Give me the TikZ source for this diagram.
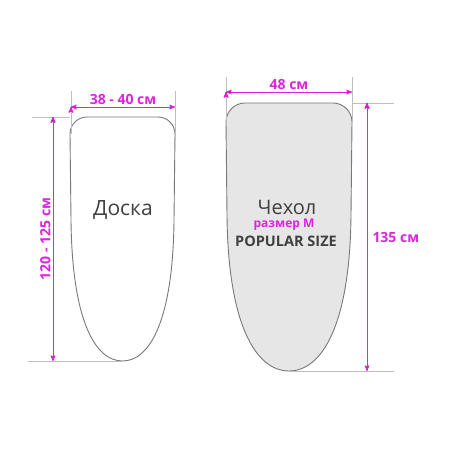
\documentclass[tikz,border=0pt]{standalone}
\usepackage{fontspec}
\setmainfont{Open Sans}
\usetikzlibrary{arrows}

\definecolor{dimpink}{RGB}{222,34,222}
\definecolor{guidegray}{RGB}{190,190,190}
\definecolor{boardgray}{RGB}{120,120,120}
\definecolor{coverfill}{RGB}{230,230,230}
\definecolor{textgray}{RGB}{64,64,64}

\tikzset{
    guide/.style={draw=guidegray, line width=0.7pt},
    dimline/.style={<->, draw=dimpink, line width=1pt},
    dimlabel/.style={text=dimpink, font=\fontsize{14}{15}\selectfont\bfseries, inner sep=1pt},
    outline/.style={draw=boardgray, line width=0.9pt}
}

\begin{document}
\begin{tikzpicture}[x=1pt, y=-1pt, >=stealth', line join=round]
    \useasboundingbox (0,0) rectangle (450,450);

    % Corners {board}
    \coordinate (btl) at (70,117);
    \coordinate (btr) at (175,117);
    \coordinate (bbot) at (122.5,361);
    % Corners {cover}
    \coordinate (ctl) at (226,103);
    \coordinate (ctr) at (352,103);
    \coordinate (cbot) at (289,371);

    % Shapes
    \path [outline, fill=white]
        (70,134) -- (71,220) .. controls (72,320) and (95,361) .. (bbot)
        .. controls (150,361) and (173,320) .. (174,220) -- (175,134)
        .. controls (175,124.6) and (167.4,117) .. (158,117) -- (87,117)
        .. controls (77.6,117) and (70,124.6) .. (70,134) -- cycle;
    \path [outline, fill=coverfill]
        (226,122) -- (227,215) .. controls (228,325) and (256,371) .. (cbot)
        .. controls (322,371) and (350,325) .. (351,215) -- (352,122)
        .. controls (352,111.5) and (343.5,103) .. (333,103) -- (245,103)
        .. controls (234.5,103) and (226,111.5) .. (226,122) -- cycle;

    % Guides
    \coordinate (g1) at (71,91);    \coordinate (g2) at (175,91);
    \coordinate (g3) at (32,117);   \coordinate (g4) at (28,361);
    \coordinate (g5) at (226,77);   \coordinate (g6) at (352,77);
    \coordinate (g7) at (394,103);  \coordinate (g8) at (394,371);
    \draw [guide] (g1) -- (71,134);
    \draw [guide] (g2) -- (175,140);
    \draw [guide] (g3) -- (btl);
    \draw [guide] (g4) -- (bbot);
    \draw [guide] (g5) -- (226,122);
    \draw [guide] (g6) -- (352,122);
    \draw [guide] (ctr) -- (g7);
    \draw [guide] (cbot) -- (g8);

    % Dimensions
    \coordinate (d1) at (71,107);   \coordinate (d2) at (175,107);
    \coordinate (d3) at (53,117);   \coordinate (d4) at (53,361);
    \coordinate (d5) at (226,92);   \coordinate (d6) at (352,92);
    \coordinate (d7) at (367,103);  \coordinate (d8) at (367,371);
    \path [dimline] (d1) edge node [dimlabel, above=1pt] {38 - 40 см} (d2);
    \path [dimline] (d3) edge node [dimlabel, left=1pt, rotate=90, anchor=south] {120 - 125 см} (d4);
    \path [dimline] (d5) edge node [dimlabel, above=1pt] {48 см} (d6);
    \path [dimline] (d7) edge node [dimlabel, right=4pt] {135 см} (d8);

    % Labels
    \node (board) at (123,210) [text=textgray, font=\fontsize{21}{23}\selectfont] {Доска};
    \node (cover) at (287,207) [text=textgray, font=\fontsize{20}{22}\selectfont] {Чехол};
    \node (size)  at (284,225) [text=dimpink, font=\fontsize{12}{13}\selectfont\bfseries] {размер М};
    \node (popular) at (286,241) [text=textgray, font=\fontsize{14.5}{15}\selectfont\bfseries] {POPULAR SIZE};

\end{tikzpicture}
\end{document}
